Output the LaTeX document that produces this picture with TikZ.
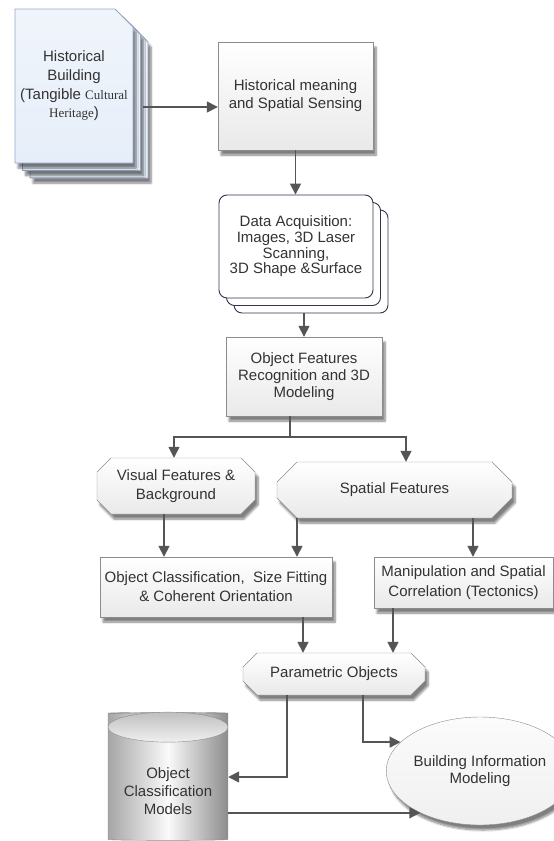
\documentclass[tikz,border=0pt]{standalone}
\usepackage{fontspec}
\setmainfont{Liberation Sans}
\newfontfamily\timesfont{Liberation Serif}
\usetikzlibrary{arrows.meta,shapes.geometric,shadows.blur}
\definecolor{arrowgray}{HTML}{555555}
\definecolor{textgray}{HTML}{333333}
\definecolor{boxline}{HTML}{8C8C8C}
\definecolor{boxfill}{HTML}{E9E9E9}
\definecolor{cardline}{HTML}{34344E}
\definecolor{pageline}{HTML}{93A6CA}
\definecolor{pagefill}{HTML}{E6EEF9}
% octagon: centre x, centre y, width, height, chamfer
\newcommand{\octshape}[5]{%
  \draw[octfill] (#1-#3/2+#5,#2-#4/2) -- (#1+#3/2-#5,#2-#4/2) -- (#1+#3/2,#2-#4/2+#5) -- (#1+#3/2,#2+#4/2-#5)
    -- (#1+#3/2-#5,#2+#4/2) -- (#1-#3/2+#5,#2+#4/2) -- (#1-#3/2,#2+#4/2-#5) -- (#1-#3/2,#2-#4/2+#5) -- cycle;}
\begin{document}
\begin{tikzpicture}[x=1pt,y=-1pt,font=\fontsize{15}{18}\selectfont,text=textgray,
    arr/.style={draw=arrowgray,line width=1.6pt,-{Triangle[width=11pt,length=11pt]}},
    shadowed/.style={blur shadow={shadow xshift=3pt,shadow yshift=-5pt,shadow opacity=50,shadow blur steps=7}},
    box/.style={draw=boxline,top color=white,bottom color=boxfill,align=center,inner sep=0pt,shadowed},
    octtext/.style={align=center,inner sep=0pt},
    octfill/.style={draw=boxline,top color=white,bottom color=boxfill,shadowed},
    card/.style={draw=cardline,fill=white,rounded corners=8pt,line width=0.9pt},
    page/.style={draw=pageline,top color=pagefill!60,bottom color=pagefill,line width=0.9pt}]
  \useasboundingbox (0,0) rectangle (554,841);

  % historical building, three sheets
  \foreach \d in {15,7.5,0}
    \draw[page,shadowed] (15+\d,9+\d) -- (115+\d,9+\d) -- (133+\d,27+\d) -- (133+\d,163+\d) -- (15+\d,163+\d) -- cycle;
  \node[align=center,inner sep=0pt,font=\fontsize{15}{18.7}\selectfont] (hb) at (74,86)
    {Historical\\Building\\(Tangible {\timesfont\fontsize{13}{18}\selectfont Cultural}\\{\timesfont\fontsize{13}{18}\selectfont Heritage})};

  \node[box,minimum width=155pt,minimum height=108pt] (hm) at (295.5,96) {Historical meaning\\and Spatial Sensing};

  \node[box,minimum width=156pt,minimum height=79pt,font=\fontsize{15}{17}\selectfont] (od) at (304,376.5)
    {Object Features\\Recognition and 3D\\Modeling};
  \draw[arr] (od.north |- 0,300) -- (od.north);

  % data acquisition, stacked cards
  \foreach \d in {15,7.5}
    \draw[card] (219+\d,195+\d) rectangle (373+\d,298+\d);
  \node[card,align=center,inner sep=0pt,minimum width=154pt,minimum height=103pt,font=\fontsize{15}{15.7}\selectfont] (da) at (296,246.5)
    {Data Acquisition:\\Images, 3D Laser\\Scanning,\\3D Shape \&Surface};

  \octshape{176}{486}{158}{56}{14}
  \octshape{394.5}{490}{235}{56}{20}
  \octshape{334}{674}{182}{42}{14}
  \node[octtext,minimum width=158pt,minimum height=56pt,font=\fontsize{15}{19}\selectfont] (vf) at (176,486) {Visual Features \&\\Background};
  \node[octtext,minimum width=235pt,minimum height=56pt] (sf) at (394.5,490) {Spatial Features};
  \node[octtext,minimum width=182pt,minimum height=42pt] (po) at (334,674) {Parametric Objects};

  \node[box,minimum width=232pt,minimum height=60pt,font=\fontsize{15}{19}\selectfont] (oc) at (216,587)
    {Object Classification,~ Size Fitting\\\& Coherent Orientation};
  \node[box,minimum width=179pt,minimum height=51pt,font=\fontsize{15}{20}\selectfont] (mc) at (463.5,582.5)
    {Manipulation and Spatial\\Correlation (Tectonics)};

  \node[cylinder,shape border rotate=90,aspect=0.25,minimum width=120pt,minimum height=128pt,draw=boxline,
    path picture={\shade[left color=gray!70,right color=gray!90,middle color=gray!4]
      (path picture bounding box.south west) rectangle (path picture bounding box.north east);}] (ocm) at (168,777) {};
  \shade[top color=gray!50,bottom color=gray!12,draw=boxline] ([yshift=-15pt]ocm.north) ellipse [x radius=60pt,y radius=15pt];
  \node[align=center,inner sep=0pt] (ocmtext) at (168,791) {Object\\Classification\\Models};

  \node[ellipse,draw=boxline,top color=gray!3,bottom color=gray!12,minimum width=146pt,minimum height=108pt,
    align=center,inner sep=0pt,font=\fontsize{15}{17}\selectfont,shadowed] (bim) at (480,771)
    {Building Information\\Modeling};

  \coordinate (br) at (290,437);
  \draw[arr] ([xshift=15pt,yshift=-21pt]hb.east) -- ([yshift=-11pt]hm.west);
  \draw[arr] (hm.south) -- (hm.south |- da.north);
  \draw[draw=arrowgray,line width=1.6pt] ([xshift=-14pt]od.south) -- (br);
  \draw[arr] (br) -| ([xshift=-2pt]vf.north);
  \draw[arr] (br) -| ([xshift=11.5pt]sf.north);
  \draw[arr] ([xshift=-12pt]vf.south) -- ([xshift=-12pt]vf.south |- oc.north);
  \draw[arr] ([xshift=-97.5pt]sf.south) -- ([xshift=-97.5pt]sf.south |- oc.north);
  \draw[arr] ([xshift=78.5pt]sf.south) -- ([xshift=78.5pt]sf.south |- mc.north);
  \draw[arr] ([xshift=87pt]oc.south) -- ([xshift=87pt]oc.south |- po.north);
  \draw[arr] ([xshift=-70.5pt]mc.south) -- ([xshift=-70.5pt]mc.south |- po.north);
  \draw[arr] ([xshift=-47pt]po.south) |- (ocm.east);
  \draw[arr] ([xshift=29pt]po.south) |- (bim.160);
  \draw[arr] (ocm.east |- bim.215) -- (bim.215);
\end{tikzpicture}
\end{document}
